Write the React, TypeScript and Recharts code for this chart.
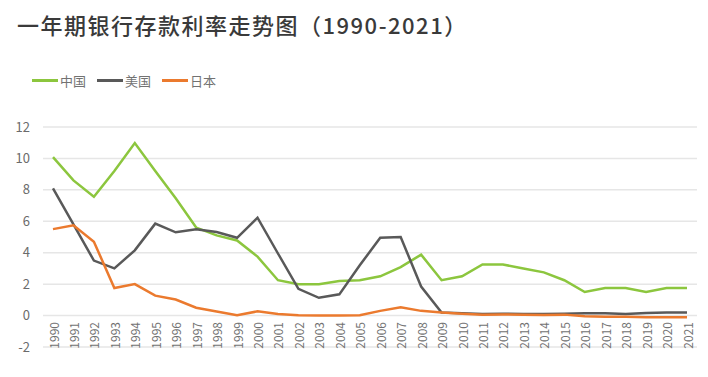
import React from "react";
import { LineChart, Line, XAxis, YAxis, CartesianGrid } from "recharts";

const years = [
  "1990", "1991", "1992", "1993", "1994", "1995", "1996", "1997", "1998", "1999",
  "2000", "2001", "2002", "2003", "2004", "2005", "2006", "2007", "2008", "2009",
  "2010", "2011", "2012", "2013", "2014", "2015", "2016", "2017", "2018", "2019",
  "2020", "2021",
];
const china = [
  10.08, 8.6, 7.56, 9.2, 10.98, 9.2, 7.47, 5.6, 5.1, 4.78,
  3.75, 2.25, 2.0, 2.0, 2.2, 2.25, 2.5, 3.08, 3.88, 2.25,
  2.5, 3.25, 3.25, 3.0, 2.75, 2.25, 1.5, 1.75, 1.75, 1.5,
  1.75, 1.75,
];
const usa = [
  8.1, 5.8, 3.5, 3.0, 4.15, 5.85, 5.3, 5.5, 5.32, 4.95,
  6.23, 3.95, 1.7, 1.13, 1.35, 3.2, 4.95, 5.0, 1.85, 0.2,
  0.15, 0.1, 0.12, 0.1, 0.1, 0.12, 0.15, 0.15, 0.1, 0.17,
  0.2, 0.2,
];
const japan = [
  5.5, 5.75, 4.7, 1.75, 2.0, 1.27, 1.02, 0.5, 0.26, 0.02,
  0.27, 0.1, 0.02, 0.01, 0.01, 0.02, 0.3, 0.53, 0.3, 0.2,
  0.12, 0.05, 0.07, 0.05, 0.04, 0.06, -0.05, -0.08, -0.08, -0.1,
  -0.1, -0.1,
];
const yTicks = [-2, 0, 2, 4, 6, 8, 10, 12];

const seriesNames = ["中国", "美国", "日本"];
const colors = ["#8CC63E", "#595959", "#EB7A2E"];

const data = years.map((y, i) => ({
  year: y,
  china: china[i],
  usa: usa[i],
  japan: japan[i],
}));

const FONT = '"Noto Sans CJK SC", "Noto Sans", sans-serif';

const XTick = (props: any) => {
  const { x, y, payload } = props;
  return (
    <text
      transform={`translate(${x},${y - 25}) rotate(-90)`}
      textAnchor="end"
      dominantBaseline="central"
      fill="#727272"
      fontSize={12}
      fontFamily={FONT}
    >
      {payload.value}
    </text>
  );
};

export default function App() {
  return (
    <div
      style={{
        position: "absolute",
        left: 0,
        top: 0,
        width: 708,
        height: 377,
        background: "#fff",
        fontFamily: FONT,
      }}
    >
      <div
        style={{
          position: "absolute",
          left: 17,
          top: 8,
          fontSize: 22,
          fontWeight: 500,
          color: "#3a3a3a",
          whiteSpace: "nowrap",
          letterSpacing: 1.5,
        }}
      >
        一年期银行存款利率走势图（1990-2021）
      </div>
      <div
        style={{
          position: "absolute",
          left: 32,
          top: 71,
          display: "flex",
          alignItems: "center",
          fontSize: 13,
          color: "#727272",
        }}
      >
        {seriesNames.map((n, i) => (
          <div key={n} style={{ display: "flex", alignItems: "center", marginRight: 11 }}>
            <div style={{ width: 26, height: 2.5, background: colors[i], marginRight: 2 }} />
            <span>{n}</span>
          </div>
        ))}
      </div>
      <LineChart
        width={708}
        height={377}
        data={data}
        margin={{ top: 127, right: 11, bottom: 0, left: 0 }}
      >
        <CartesianGrid vertical={false} stroke="#e6e6e6" strokeWidth={1.5} />
        <XAxis
          dataKey="year"
          interval={0}
          height={30}
          axisLine={false}
          tickLine={false}
          tickSize={0}
          tickMargin={0}
          padding={{ left: 10, right: 10 }}
          tick={<XTick />}
        />
        <YAxis
          width={43}
          domain={[-2, 12]}
          ticks={yTicks}
          axisLine={false}
          tickLine={false}
          tickSize={0}
          tickMargin={13}
          tick={{ fill: "#6b6b6b", fontSize: 13, fontFamily: FONT }}
        />
        <Line dataKey="china" stroke={colors[0]} strokeWidth={2.5} dot={false} isAnimationActive={false} />
        <Line dataKey="usa" stroke={colors[1]} strokeWidth={2.5} dot={false} isAnimationActive={false} />
        <Line dataKey="japan" stroke={colors[2]} strokeWidth={2.5} dot={false} isAnimationActive={false} />
      </LineChart>
    </div>
  );
}
